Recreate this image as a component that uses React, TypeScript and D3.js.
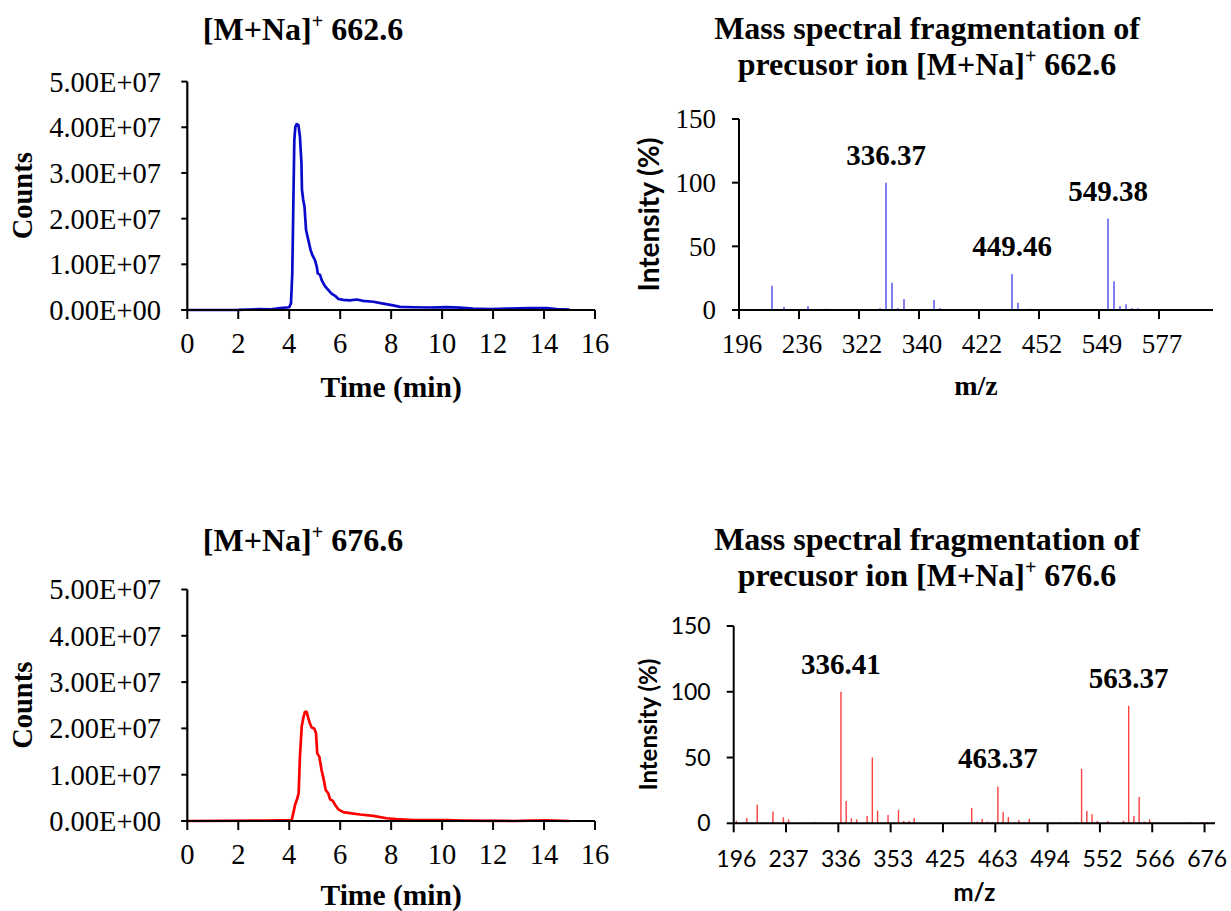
import React from 'react';
import * as d3 from 'd3';

const W = 1231;
const H = 911;

// ---------- Chromatogram data ----------
const timeTicks = [0, 2, 4, 6, 8, 10, 12, 14, 16];
const countTicks = [0, 1e7, 2e7, 3e7, 4e7, 5e7];

// [time (min), counts]
const chromA: [number, number][] = [
  [0, 0], [2, 0.002e7], [2.85, 0.02e7], [3.3, 0.015e7], [3.64, 0.04e7], [4.0, 0.06e7], [4.07, 0.15e7],
  [4.12, 0.8e7], [4.16, 2.26e7], [4.2, 3.72e7], [4.24, 4.01e7], [4.29, 4.07e7], [4.36, 4.05e7],
  [4.42, 3.8e7], [4.48, 3.21e7], [4.5, 2.63e7], [4.55, 2.41e7], [4.6, 2.26e7], [4.66, 1.75e7],
  [4.75, 1.53e7], [4.84, 1.31e7], [4.91, 1.2e7], [5.01, 1.09e7], [5.08, 0.95e7], [5.12, 0.8e7],
  [5.21, 0.77e7], [5.27, 0.66e7], [5.34, 0.58e7], [5.42, 0.51e7], [5.53, 0.44e7], [5.66, 0.36e7],
  [5.8, 0.31e7], [5.93, 0.24e7], [6.12, 0.22e7], [6.38, 0.21e7], [6.65, 0.23e7], [6.9, 0.2e7],
  [7.3, 0.18e7], [7.69, 0.14e7], [8.08, 0.1e7], [8.35, 0.07e7], [8.87, 0.06e7], [9.52, 0.055e7],
  [10.18, 0.065e7], [10.7, 0.05e7], [11.22, 0.03e7], [11.88, 0.02e7], [12.53, 0.03e7],
  [13.45, 0.04e7], [14.1, 0.04e7], [14.5, 0.02e7], [15.0, 0.01e7],
];

const chromB: [number, number][] = [
  [0, 0], [2.98, 0.01e7], [3.64, 0.015e7], [4.1, 0.02e7], [4.16, 0.17e7], [4.23, 0.35e7],
  [4.32, 0.49e7], [4.37, 0.6e7], [4.42, 1.39e7], [4.49, 2.04e7], [4.55, 2.22e7], [4.62, 2.36e7],
  [4.68, 2.36e7], [4.75, 2.22e7], [4.81, 2.11e7], [4.88, 2.02e7], [4.98, 2.0e7], [5.05, 1.9e7],
  [5.1, 1.46e7], [5.18, 1.39e7], [5.27, 1.1e7], [5.37, 0.85e7], [5.43, 0.67e7], [5.53, 0.6e7],
  [5.6, 0.47e7], [5.7, 0.44e7], [5.8, 0.35e7], [5.93, 0.25e7], [6.12, 0.19e7], [6.38, 0.17e7],
  [6.78, 0.14e7], [7.3, 0.11e7], [7.82, 0.06e7], [8.2, 0.04e7], [8.87, 0.02e7], [10.18, 0.02e7],
  [10.83, 0.01e7], [12.8, 0], [13.45, 0.01e7], [14.1, 0.015e7], [15.0, 0],
];

// ---------- Spectrum data (category axis) ----------
const intensityTicks = [0, 50, 100, 150];

const specACount = 79;
const specALabels = ['196', '236', '322', '340', '422', '452', '549', '577'];
// [category index, intensity %]
const specAPeaks: [number, number][] = [
  [1, 0.6], [5, 19], [7, 2.3], [11, 3], [14, 1], [23, 1.5], [24, 100], [25, 21.4], [26, 1.5],
  [27, 8.6], [32, 7.8], [33, 1.5], [43, 0.5], [45, 28.2], [46, 5.7], [48, 1], [61, 71.8],
  [62, 22.5], [63, 3], [64, 4.4], [65, 1.5], [66, 1.5],
];
const specAAnnot: [number, string][] = [[24, '336.37'], [45, '449.46'], [61, '549.38']];

const specBCount = 92;
const specBLabels = ['196', '237', '336', '353', '425', '463', '494', '552', '566', '676'];
const specBPeaks: [number, number][] = [
  [0, 2], [2, 4], [4, 14.2], [5, 0.5], [6, 0.5], [7, 8.9], [8, 0.5], [9, 4.6], [10, 2.8],
  [13, 0.5], [15, 1], [16, 0.5], [20, 100], [21, 17], [22, 3.8], [23, 3], [25, 5.6], [26, 50],
  [27, 9.6], [29, 6.3], [31, 10.2], [32, 1.8], [33, 1.8], [34, 4], [45, 11.7], [46, 1.3],
  [47, 3.3], [48, 1.3], [49, 1], [50, 28], [51, 8.6], [52, 4.8], [54, 2.5], [55, 1], [56, 3.3],
  [58, 0.8], [59, 0.5], [60, 0.8], [62, 0.8], [63, 0.8], [65, 1], [66, 41.4], [67, 9.4],
  [68, 6.9], [69, 1.8], [71, 1.8], [74, 2], [75, 89.3], [76, 5.6], [77, 20], [78, 1.3], [79, 3],
  [80, 0.5], [84, 0.3], [87, 0.8], [89, 1], [90, 1], [91, 0.8],
];
const specBAnnot: [number, string][] = [[20, '336.41'], [50, '463.37'], [75, '563.37']];

const SERIF = '"Liberation Serif", "Times New Roman", serif';
const SANS = 'Lato, "Open Sans", sans-serif';

const fmtE = (v: number) => {
  const e = v === 0 ? 0 : Math.floor(Math.log10(v));
  const m = v === 0 ? 0 : v / Math.pow(10, e);
  return `${m.toFixed(2)}E+${String(e).padStart(2, '0')}`;
};

type Box = { left: number; right: number; top: number; bottom: number };

function Title({ x, y, post }: { x: number; y: number; post: string }) {
  return (
    <text x={x} y={y} textAnchor="middle" fontFamily={SERIF} fontWeight="bold" fontSize={32} fill="#000">
      [M+Na]
      <tspan dy={-12} fontSize={20}>+</tspan>
      <tspan dy={12}> {post}</tspan>
    </text>
  );
}

function Chromatogram({ box, data, color, title, titleY, labelOffset }: { box: Box; data: [number, number][]; color: string; title: string; titleY: number; labelOffset: number }) {
  const x = d3.scaleLinear().domain([0, 16]).range([box.left, box.right]);
  const y = d3.scaleLinear().domain([0, 5e7]).range([box.bottom, box.top]);
  const line = d3.line<[number, number]>().x((d) => x(d[0])).y((d) => y(d[1]));
  return (
    <g>
      <Title x={303} y={titleY} post={title} />
      <path d={line(data) || ''} fill="none" stroke={color} strokeWidth={2.7} strokeLinejoin="round" />
      <line x1={box.left} x2={box.left} y1={box.top} y2={box.bottom} stroke="#000" strokeWidth={2.2} />
      <line x1={box.left - 6} x2={box.right} y1={box.bottom} y2={box.bottom} stroke="#000" strokeWidth={2.2} />
      {countTicks.map((t) => (
        <g key={t}>
          <line x1={box.left - 6} x2={box.left} y1={y(t)} y2={y(t)} stroke="#000" strokeWidth={2} />
          <text x={161} y={y(t)} dy="0.35em" textAnchor="end" fontFamily={SERIF} fontSize={28.5}>{fmtE(t)}</text>
        </g>
      ))}
      {timeTicks.map((t) => (
        <g key={t}>
          <line x1={x(t)} x2={x(t)} y1={box.bottom} y2={box.bottom + 9} stroke="#000" strokeWidth={2} />
          <text x={x(t)} y={box.bottom + 43} textAnchor="middle" fontFamily={SERIF} fontSize={28.5}>{t}</text>
        </g>
      ))}
      <text x={(box.left + box.right) / 2} y={box.bottom + labelOffset} textAnchor="middle" fontFamily={SERIF} fontWeight="bold" fontSize={29.5}>Time (min)</text>
      <text transform={`translate(32,${(box.top + box.bottom) / 2}) rotate(-90)`} textAnchor="middle" fontFamily={SERIF} fontWeight="bold" fontSize={28.5}>Counts</text>
    </g>
  );
}

function Spectrum({ box, count, labels, peaks, annot, color, title, titleY, sans }: {
  box: Box; count: number; labels: string[]; peaks: [number, number][]; annot: [number, string][];
  color: string; title: string; titleY: number; sans: boolean;
}) {
  const x = d3.scaleBand<number>().domain(d3.range(count)).range([box.left, box.right]);
  const y = d3.scaleLinear().domain([0, 150]).range([box.bottom, box.top]);
  const bw = x.bandwidth();
  const tickFont = sans ? SANS : SERIF;
  const tickSize = sans ? 23 : 27;
  const peakMap = new Map(peaks);
  return (
    <g>
      <text x={927} y={titleY} textAnchor="middle" fontFamily={SERIF} fontWeight="bold" fontSize={32}>Mass spectral fragmentation of</text>
      <text x={927} y={titleY + 36} textAnchor="middle" fontFamily={SERIF} fontWeight="bold" fontSize={32}>
        precusor ion [M+Na]
        <tspan dy={-12} fontSize={20}>+</tspan>
        <tspan dy={12}> {title}</tspan>
      </text>
      {peaks.map(([i, v]) => (
        <rect key={i} x={(x(i) as number) + bw / 2 - 0.7} y={y(v)} width={1.4} height={box.bottom - y(v)} fill={color} />
      ))}
      <line x1={box.left} x2={box.left} y1={box.top} y2={box.bottom} stroke="#000" strokeWidth={2} />
      <line x1={box.left} x2={box.right} y1={box.bottom} y2={box.bottom} stroke="#000" strokeWidth={2} />
      {intensityTicks.map((t) => (
        <g key={t}>
          <line x1={box.left - 7} x2={box.left} y1={y(t)} y2={y(t)} stroke="#000" strokeWidth={2} />
          <text x={box.left - 23} y={y(t)} dy="0.35em" textAnchor="end" fontFamily={tickFont} fontSize={tickSize}>{t}</text>
        </g>
      ))}
      {labels.map((lab, k) => {
        const xi = x(k * 10) as number;
        return (
          <g key={k}>
            <line x1={xi} x2={xi} y1={box.bottom} y2={box.bottom + 9} stroke="#000" strokeWidth={2} />
            <text x={xi + bw / 2} y={box.bottom + (sans ? 44 : 43)} textAnchor="middle" fontFamily={tickFont} fontSize={tickSize}>{lab}</text>
          </g>
        );
      })}
      {annot.map(([i, lab]) => (
        <text key={lab} x={(x(i) as number) + bw / 2} y={y(peakMap.get(i) || 0) - 18} textAnchor="middle" fontFamily={SERIF} fontWeight="bold" fontSize={29}>{lab}</text>
      ))}
      <text x={(box.left + box.right) / 2} y={box.bottom + (sans ? 78 : 85)} textAnchor="middle" fontFamily={sans ? SANS : SERIF} fontWeight="bold" fontSize={sans ? 24 : 28}>m/z</text>
      <text transform={`translate(${sans ? 657 : 659},${(box.top + box.bottom) / 2}) rotate(-90)`} textAnchor="middle" fontFamily={SANS} fontWeight="bold" fontSize={sans ? 24 : 28}>Intensity (%)</text>
    </g>
  );
}

export default function App() {
  return (
    <svg width={W} height={H} viewBox={`0 0 ${W} ${H}`} style={{ position: 'absolute', left: 0, top: 0, background: '#fff' }}>
      <rect x={0} y={0} width={W} height={H} fill="#fff" />
      <Chromatogram box={{ left: 187.3, right: 595, top: 81.6, bottom: 310 }} data={chromA} color="#0a0acd" title="662.6" titleY={40} labelOffset={87} />
      <Chromatogram box={{ left: 187.3, right: 595, top: 589.5, bottom: 821 }} data={chromB} color="#ff0000" title="676.6" titleY={551} labelOffset={84} />
      <Spectrum box={{ left: 739, right: 1213, top: 119, bottom: 310 }} count={specACount} labels={specALabels} peaks={specAPeaks} annot={specAAnnot} color="#4a4af0" title="662.6" titleY={39} sans={false} />
      <Spectrum box={{ left: 733.7, right: 1215, top: 626, bottom: 823.3 }} count={specBCount} labels={specBLabels} peaks={specBPeaks} annot={specBAnnot} color="#ff4040" title="676.6" titleY={550} sans={true} />
    </svg>
  );
}
